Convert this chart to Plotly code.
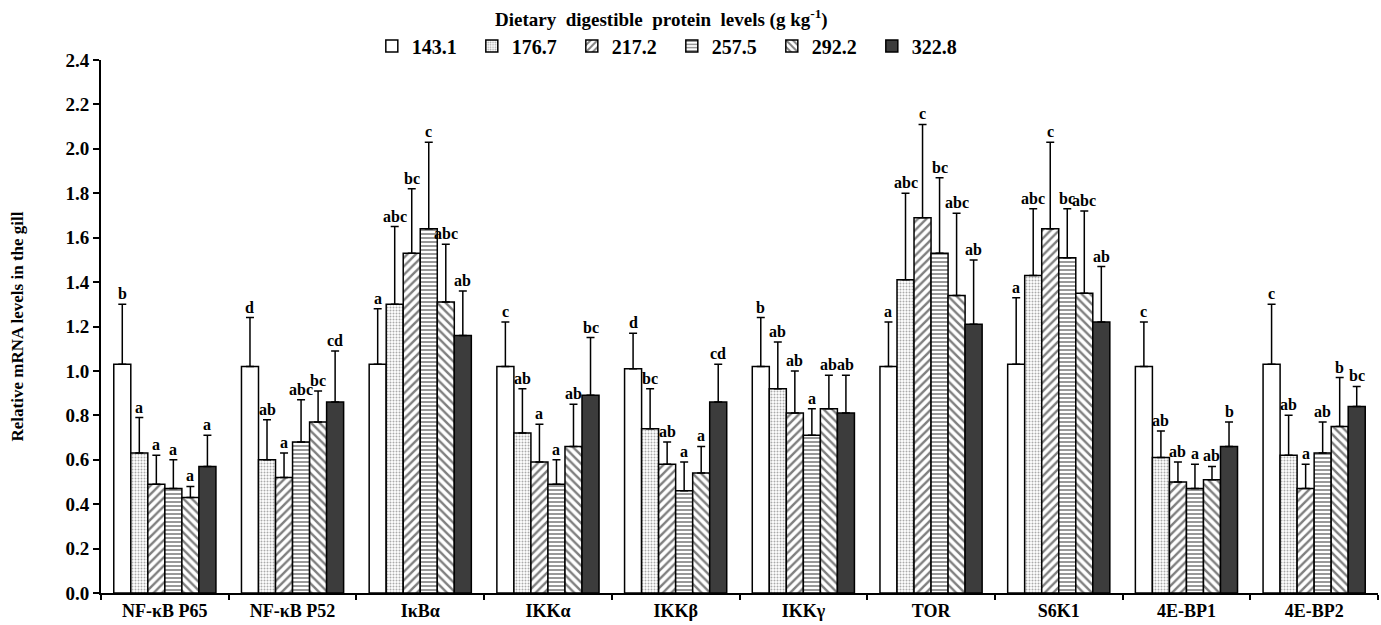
import plotly.graph_objects as go

genes = ["NF-κB P65", "NF-κB P52", "IκBα", "IKKα", "IKKβ", "IKKγ", "TOR", "S6K1", "4E-BP1", "4E-BP2"]
levels = ["143.1", "176.7", "217.2", "257.5", "292.2", "322.8"]

means = {
    "143.1": [1.03, 1.02, 1.03, 1.02, 1.01, 1.02, 1.02, 1.03, 1.02, 1.03],
    "176.7": [0.63, 0.60, 1.30, 0.72, 0.74, 0.92, 1.41, 1.43, 0.61, 0.62],
    "217.2": [0.49, 0.52, 1.53, 0.59, 0.58, 0.81, 1.69, 1.64, 0.50, 0.47],
    "257.5": [0.47, 0.68, 1.64, 0.49, 0.46, 0.71, 1.53, 1.51, 0.47, 0.63],
    "292.2": [0.43, 0.77, 1.31, 0.66, 0.54, 0.83, 1.34, 1.35, 0.51, 0.75],
    "322.8": [0.57, 0.86, 1.16, 0.89, 0.86, 0.81, 1.21, 1.22, 0.66, 0.84],
}
upper = {
    "143.1": [1.30, 1.24, 1.28, 1.22, 1.17, 1.24, 1.22, 1.33, 1.22, 1.30],
    "176.7": [0.79, 0.78, 1.65, 0.92, 0.92, 1.13, 1.80, 1.73, 0.73, 0.80],
    "217.2": [0.62, 0.63, 1.82, 0.76, 0.68, 1.00, 2.11, 2.03, 0.59, 0.58],
    "257.5": [0.60, 0.87, 2.03, 0.60, 0.59, 0.83, 1.87, 1.73, 0.58, 0.77],
    "292.2": [0.48, 0.91, 1.57, 0.85, 0.66, 0.98, 1.71, 1.72, 0.57, 0.97],
    "322.8": [0.71, 1.09, 1.36, 1.15, 1.03, 0.98, 1.50, 1.47, 0.77, 0.93],
}
letters = {
    "143.1": ["b", "d", "a", "c", "d", "b", "a", "a", "c", "c"],
    "176.7": ["a", "ab", "abc", "ab", "bc", "ab", "abc", "abc", "ab", "ab"],
    "217.2": ["a", "a", "bc", "a", "ab", "ab", "c", "c", "ab", "a"],
    "257.5": ["a", "abc", "c", "a", "a", "a", "bc", "bc", "a", "ab"],
    "292.2": ["a", "bc", "abc", "ab", "a", "ab", "abc", "abc", "ab", "b"],
    "322.8": ["a", "cd", "ab", "bc", "cd", "ab", "ab", "ab", "b", "bc"],
}

styles = {
    "143.1": dict(color="white"),
    "176.7": dict(color="white", pattern=dict(shape=".", fgcolor="#555555", bgcolor="white", size=3, solidity=0.35)),
    "217.2": dict(color="white", pattern=dict(shape="/", fgcolor="black", bgcolor="white", size=6, solidity=0.4)),
    "257.5": dict(color="white", pattern=dict(shape="-", fgcolor="black", bgcolor="white", size=4, solidity=0.4)),
    "292.2": dict(color="white", pattern=dict(shape="\\", fgcolor="black", bgcolor="white", size=6, solidity=0.4)),
    "322.8": dict(color="#3c3c3c"),
}

FONT = "Liberation Serif, Times New Roman, serif"
fig = go.Figure()
for lv in levels:
    st = styles[lv]
    marker = dict(color=st["color"], line=dict(color="black", width=1.5))
    if "pattern" in st:
        marker["pattern"] = st["pattern"]
    fig.add_trace(go.Bar(
        name=lv, x=genes, y=means[lv], marker=marker,
        error_y=dict(type="data", symmetric=False,
                     array=[u - m for u, m in zip(upper[lv], means[lv])],
                     arrayminus=[0] * len(genes), color="black", thickness=1.5, width=4),
    ))

bargap = 0.2
n = len(levels)
bw = (1 - bargap) / n
for j, lv in enumerate(levels):
    for i, g in enumerate(genes):
        xpos = i - (1 - bargap) / 2 + (j + 0.5) * bw
        fig.add_annotation(x=xpos, y=upper[lv][i], text=letters[lv][i], showarrow=False,
                           yanchor="bottom", yshift=0,
                           font=dict(family=FONT, size=16, color="black", weight="bold"))

fig.add_annotation(xref="paper", yref="paper", x=0.439, y=1 + 42 / 533, xanchor="center", yanchor="middle",
                   text="Dietary  digestible  protein  levels (g kg<sup>-1</sup>)", showarrow=False,
                   font=dict(family=FONT, size=19, color="black", weight="bold"))

fig.update_layout(
    width=1381, height=625,
    margin=dict(l=101, r=3, t=60, b=32, autoexpand=False),
    plot_bgcolor="white", paper_bgcolor="white",
    barmode="group", bargap=bargap, bargroupgap=0,
    font=dict(family=FONT, size=17, color="black", weight="bold"),
    showlegend=True,
    legend=dict(orientation="h", x=0.447, xanchor="center", yref="container", y=1 - 46 / 625, yanchor="middle",
                entrywidth=55, entrywidthmode="pixels", itemwidth=30,
                font=dict(family=FONT, size=20, color="black", weight="bold"), traceorder="normal"),
    xaxis=dict(tickson="boundaries", ticks="outside", ticklen=5, tickcolor="black", tickwidth=1.5,
               showline=True, linecolor="black", linewidth=2, showgrid=False,
               tickfont=dict(family=FONT, size=18, color="black", weight="bold")),
    yaxis=dict(range=[0, 2.4], dtick=0.2, tickformat=".1f", ticks="outside", ticklen=6, tickcolor="black",
               tickwidth=1.5, showline=True, linecolor="black", linewidth=2, showgrid=False, zeroline=False,
               tickfont=dict(family=FONT, size=19, color="black", weight="bold"),
               title=dict(text="Relative mRNA levels in the gill", standoff=38,
                          font=dict(family=FONT, size=17, color="black", weight="bold"))),
)

fig.write_html("out.html", config={"displayModeBar": False},
               post_script="document.body.style.margin='0';")
